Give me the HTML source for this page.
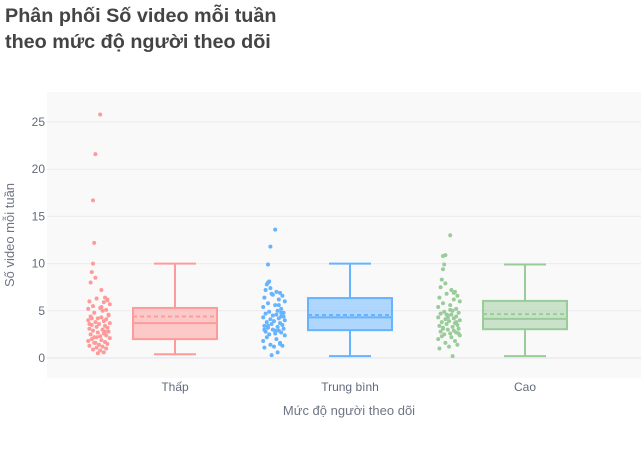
<!DOCTYPE html>
<html><head><meta charset="utf-8"><style>
body{margin:0;background:#fff;}
svg{display:block;font-family:"Liberation Sans",Arial,sans-serif;}
</style></head><body>
<svg id="chart" width="641" height="450">
<text x="5" y="22" font-size="19.8" font-weight="bold" fill="#444">Phân phối Số video mỗi tuần</text>
<text x="5" y="48" font-size="19.8" font-weight="bold" fill="#444">theo mức độ người theo dõi</text>
<rect x="47" y="92" width="594" height="286" fill="#f9f9f9"/>
<g id="grid"></g><g id="marks"></g>
<text x="349" y="415" font-size="13" fill="#6f7584" text-anchor="middle">Mức độ người theo dõi</text>
<text transform="translate(14,235) rotate(-90)" font-size="13" fill="#6f7584" text-anchor="middle">Số video mỗi tuần</text>
</svg>
<script>
const categories=["Thấp","Trung bình","Cao"];
const yTicks=[0,5,10,15,20,25];
const q1=[2.0,2.95,3.05], med=[3.7,4.3,4.15], q3=[5.3,6.35,6.05], mean=[4.4,4.55,4.65];
const lowW=[0.4,0.2,0.2], highW=[10.0,10.0,9.9];
const ptsLow=[25.8,21.6,16.7,12.2,10.0,9.1,8.5,8.0,7.2,6.4,6.3,6.2,6.0,5.9,5.7,5.5,5.3,5.2,5.1,5.0,4.8,4.6,4.4,4.3,4.2,4.1,4.0,3.9,3.8,3.7,3.6,3.5,3.4,3.3,3.2,3.1,3.0,2.9,2.8,2.7,2.6,2.5,2.4,2.3,2.2,2.1,2.0,1.9,1.8,1.7,1.6,1.5,1.4,1.3,1.2,1.1,1.0,0.9,0.8,0.6,0.5,4.5,3.6,2.8,1.6,5.4,6.1,4.2,3.0,2.2];
const ptsMid=[13.6,11.8,9.9,8.1,8.0,7.8,7.4,7.2,7.0,6.9,6.8,6.6,6.4,6.2,6.0,5.8,5.6,5.4,5.2,5.0,4.9,4.8,4.7,4.6,4.5,4.4,4.3,4.2,4.1,4.0,3.9,3.8,3.7,3.6,3.5,3.4,3.3,3.2,3.1,3.0,2.9,2.8,2.7,2.6,2.5,2.4,2.2,2.0,1.8,1.6,1.4,1.3,1.2,1.1,0.6,0.3,4.8,3.4,2.9,5.6,6.7,4.4,3.0,1.5];
const ptsHigh=[13.0,10.9,10.8,9.9,9.4,8.3,7.9,7.5,7.2,7.0,6.8,6.6,6.4,6.2,6.0,5.8,5.6,5.4,5.2,5.0,4.9,4.8,4.7,4.6,4.5,4.4,4.3,4.2,4.1,4.0,3.9,3.8,3.7,3.6,3.5,3.4,3.3,3.2,3.1,3.0,2.9,2.8,2.7,2.6,2.5,2.4,2.3,2.2,2.0,1.8,1.6,1.4,1.2,1.0,0.2,4.6,3.8,3.1,5.1,6.9,4.3,2.6];
const points=[ptsLow,ptsMid,ptsHigh];
const jitter=[0.1,-0.3,-0.5,-0.4,-0.5,-0.6,-0.3,-0.7,0.2,0.5,-0.2,0.7,-0.8,0.4,0.9,-0.5,0.1,-0.9,0.6,0.3,-0.4,0.8,-0.7,0.2,-0.1,0.6,-0.9,0.4,-0.3,0.9,0.0,-0.6,0.5,-0.2,0.7,-0.8,0.3,-0.5,0.8,-0.1,0.4,-0.7,0.6,0.1,-0.4,0.9,-0.6,0.2,-0.9,0.5,-0.3,0.7,0.0,-0.8,0.3,-0.2,0.6,-0.5,0.1,0.4,-0.1,0.8,-0.8,0.5,-0.4,0.2,0.7,-0.6,0.3,-0.2];
const colors=["#ff9a9a","#66b3ff","#99cc99"], fills=["rgba(255,154,154,0.5)","rgba(102,179,255,0.5)","rgba(153,204,153,0.5)"];
const NS="http://www.w3.org/2000/svg";
const y=v=>358-v*9.44, xc=i=>175+i*175;
function mk(t,a,p){const e=document.createElementNS(NS,t);for(const k in a)e.setAttribute(k,a[k]);p.appendChild(e);return e;}
const grid=document.getElementById('grid'), marks=document.getElementById('marks');
yTicks.forEach(t=>{
 const l=mk('line',{x1:47,x2:641,y1:y(t),y2:y(t),stroke:t===0?'#e4e4ec':'#ebebf0','stroke-width':1},grid);
 
 
 const tx=mk('text',{x:45,y:y(t)+4,'font-size':12,fill:'#626a7c','text-anchor':'end'},grid);tx.textContent=t;
 
 
});
categories.forEach((c,i)=>{
 const cx=xc(i), col=colors[i];
 const tx=mk('text',{x:cx,y:391,'font-size':12,fill:'#626a7c','text-anchor':'middle'},grid);tx.textContent=c;
 
 
 const g=mk('g',{},marks);
 
 
 mk('line',{x1:cx,x2:cx,y1:y(highW[i]),y2:y(q3[i]),stroke:col,'stroke-width':2},g);
 mk('line',{x1:cx,x2:cx,y1:y(q1[i]),y2:y(lowW[i]),stroke:col,'stroke-width':2},g);
 mk('line',{x1:cx-21,x2:cx+21,y1:y(highW[i]),y2:y(highW[i]),stroke:col,'stroke-width':2},g);
 mk('line',{x1:cx-21,x2:cx+21,y1:y(lowW[i]),y2:y(lowW[i]),stroke:col,'stroke-width':2},g);
 mk('rect',{x:cx-42,y:y(q3[i]),width:84,height:y(q1[i])-y(q3[i]),fill:fills[i],stroke:col,'stroke-width':2},g);
 mk('line',{x1:cx-42,x2:cx+42,y1:y(med[i]),y2:y(med[i]),stroke:col,'stroke-width':2},g);
 mk('line',{x1:cx-42,x2:cx+42,y1:y(mean[i]),y2:y(mean[i]),stroke:col,'stroke-width':2,'stroke-dasharray':'4,3'},g);
 const pg=mk('g',{},marks);
 
 
 points[i].forEach((v,k)=>{
  const p=mk('circle',{cx:cx-76+jitter[k%jitter.length]*12,cy:y(v),r:2,fill:col},pg);
  
  
 });
});
</script>
</body></html>
